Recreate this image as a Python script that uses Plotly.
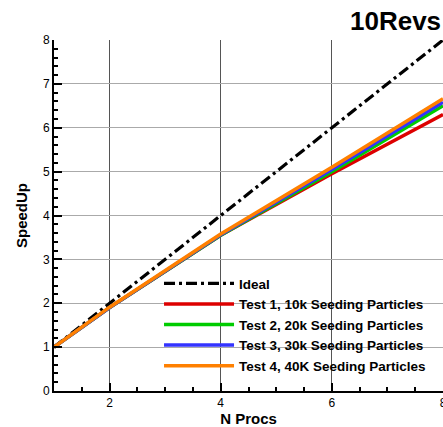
import plotly.graph_objects as go

nprocs = [1, 2, 4, 6, 8]
ideal = [1, 2, 4, 6, 8]
test1 = [1.0, 1.9, 3.55, 4.95, 6.3]
test2 = [1.0, 1.9, 3.55, 5.0, 6.5]
test3 = [1.0, 1.9, 3.56, 5.05, 6.58]
test4 = [1.0, 1.91, 3.58, 5.1, 6.66]
names = ["Test 1, 10k Seeding Particles", "Test 2, 20k Seeding Particles",
         "Test 3, 30k Seeding Particles", "Test 4, 40K Seeding Particles"]
colors = ["#dd0000", "#00cc00", "#3333ff", "#ff8000"]

FONT = "Liberation Sans, Arial, sans-serif"

fig = go.Figure()
fig.add_trace(go.Scatter(x=nprocs, y=ideal, mode="lines", name="Ideal",
                         line=dict(color="black", width=3.2, dash="11px,4px,3px,4px")))
for n, s, c in zip(names, [test1, test2, test3, test4], colors):
    fig.add_trace(go.Scatter(x=nprocs, y=s, mode="lines", name=n,
                             line=dict(color=c, width=3.5)))

fig.update_layout(
    width=443, height=427,
    margin=dict(l=54, r=0, t=40, b=36, autoexpand=False),
    paper_bgcolor="white", plot_bgcolor="white",
    font=dict(family=FONT, color="black", size=12),
    showlegend=True,
    legend=dict(x=0.27, y=0.35, xanchor="left", yanchor="top",
                bgcolor="rgba(0,0,0,0)", itemwidth=70, tracegroupgap=0,
                font=dict(family=FONT, size=13.5, color="black", weight="bold")),
    annotations=[dict(text="<b>10Revs</b>", x=1.0, xref="paper", xanchor="right",
                      y=1.053, yref="paper", yanchor="middle", showarrow=False,
                      font=dict(family=FONT, size=26, color="black"))],
)

fig.update_xaxes(range=[1, 8], tickvals=[2, 4, 6, 8], ticks="inside", ticklen=8, tickwidth=2,
                 tickcolor="black", ticklabeloverflow="allow",
                 minor=dict(dtick=0.5, ticks="inside", ticklen=4, tickcolor="black", showgrid=False),
                 showgrid=True, gridcolor="#555", gridwidth=1,
                 showline=True, linecolor="black", linewidth=2, zeroline=False,
                 title=dict(text="<b>N Procs</b>", font=dict(size=15), standoff=4),
                 automargin=False, tickfont=dict(size=12))
fig.update_yaxes(range=[0, 8], tickvals=list(range(0, 9)), ticks="inside", ticklen=8, tickwidth=2,
                 tickcolor="black",
                 minor=dict(dtick=0.2, ticks="inside", ticklen=4, tickcolor="black", showgrid=False),
                 showgrid=True, gridcolor="#aaa", gridwidth=1,
                 showline=True, linecolor="black", linewidth=2, zeroline=False,
                 title=dict(text="<b>SpeedUp</b>", font=dict(size=15), standoff=12),
                 automargin=False, tickfont=dict(size=12))

fig.write_html("out.html", config={"displayModeBar": False},
               post_script="document.body.style.margin='0';document.body.style.overflow='hidden';")
